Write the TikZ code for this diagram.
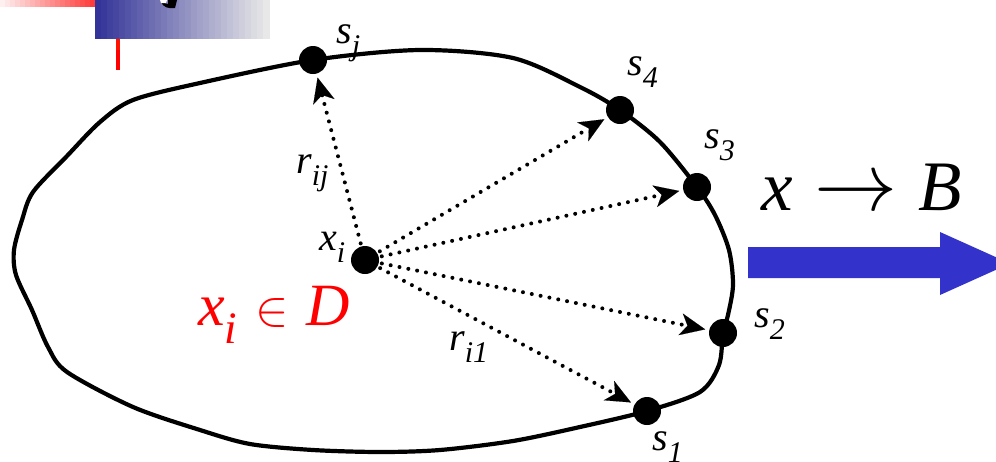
\documentclass[tikz,border=0pt]{standalone}
\usepackage{fontspec}
\setmainfont{Liberation Serif}
\newfontfamily\tms{Liberation Serif}[ItalicFont={Liberation Serif Italic}]
\usetikzlibrary{arrows.meta}
\newcommand\sublbl[2]{#1\raisebox{-0.3em}{\fontsize{30}{30}\selectfont #2}}
\newcommand\bigmath[2]{\scalebox{#1}{\fontsize{10}{10}\selectfont$#2$}}
\definecolor{bararrow}{HTML}{3333CC}
\definecolor{darkbar}{HTML}{333399}
\definecolor{lightbar}{HTML}{E8E8E8}
\begin{document}
\begin{tikzpicture}[x=1pt,y=-1pt,
  dot/.style={circle,fill=black,minimum size=28pt,inner sep=0pt},
  ray/.style={line width=4pt,line cap=round,dash pattern=on 0pt off 9pt,
    -{Stealth[length=25pt,width=22pt,inset=7pt,line width=0.1pt]},shorten >=4pt,shorten <=3pt},
  lab/.style={inner sep=0pt,anchor=base west,font=\tms\fontsize{40}{40}\selectfont\itshape},
  boundary/.style={line width=4.2pt,line join=round}]
\useasboundingbox (0,0) rectangle (996,461);
% top-left decorations (gradients as strips)
\foreach \i in {0,...,24} {
  \pgfmathsetmacro\p{6+94*\i/24}
  \fill[red!\p!white] (\i*5,0) rectangle (\i*5+5.6,7);
}
\foreach \i in {0,...,28} {
  \pgfmathsetmacro\p{100-100*\i/28}
  \fill[darkbar!\p!lightbar] (95+\i*6,0) rectangle (95+\i*6+6.6,39);
}
\fill[black] (161,2) .. controls (163,7) and (168,9) .. (175,8) -- (177,0) -- (168,0) -- (168,4) .. controls (166,4) and (164,3) .. (163,1) -- cycle;
\fill[white] (160,0) -- (167,0) -- (166,3) -- (161,3) -- cycle;
\fill[red!85!orange] (116,39) rectangle (120,50);
\fill[red] (116,50) rectangle (120,70);
% boundary curve
\draw[boundary] plot[smooth cycle,tension=0.5] coordinates {
 (313,60) (420,50) (513,58) (580,87) (620,110) (660,142) (697,187) (715,215)
 (729,250) (733,285) (728,315) (723,333) (719,365) (700,392) (647,411)
 (580,427) (513,441) (440,450) (380,452) (313,450) (250,444) (200,430)
 (133,407) (67,372) (48,347) (32,310) (16,275) (14,250) (22,220) (33,192)
 (67,156) (100,122) (133,100) (200,83)};
% points
\node[dot] (sj) at (313,60) {};
\node[dot] (s4) at (620,110) {};
\node[dot] (s3) at (697,187) {};
\node[dot] (s2) at (723,333) {};
\node[dot] (s1) at (647,411) {};
\node[dot] (xi) at (365,260) {};
% rays
\draw[ray] (xi) -- (sj);
\draw[ray] (xi) -- (s4);
\draw[ray] (xi) -- (s3);
\draw[ray] (xi) -- (s2);
\draw[ray] (xi) -- (s1);
% labels
\node[lab] (lsj) at (336,43) {\sublbl{s}{j}};
\node[lab] (ls4) at (627,75) {\sublbl{s}{4}};
\node[lab] (ls3) at (704,148) {\sublbl{s}{3}};
\node[lab] (ls2) at (754,327) {\sublbl{s}{2}};
\node[lab] (ls1) at (652,450) {\sublbl{s}{1}};
\node[lab] (lxi) at (319,250) {\sublbl{x}{i}};
\node[lab] (lrij) at (296,173) {\sublbl{r}{ij}};
\node[lab] (lri1) at (449,350) {\sublbl{r}{i1}};
\node[lab,text=red,font=\tms\fontsize{60}{60}\selectfont\itshape] (lin) at (198,325)
  {x\raisebox{-0.3em}{\fontsize{45}{45}\selectfont i}\hspace{0.3em}\bigmath{5}{\in}\hspace{0.3em}D};
\node[lab,font=\tms\fontsize{71}{71}\selectfont\itshape] (lxb) at (761,210)
  {x\hspace{0.3em}\bigmath{8.3}{\rightarrow}\hspace{0.3em}B};
% blue arrow (head runs past the right edge)
\fill[bararrow] (748,247) -- (940,247) -- (940,232) -- (996,257.2) -- (996,269.8)
  -- (940,295) -- (940,278) -- (748,278) -- cycle;
\end{tikzpicture}
\end{document}
